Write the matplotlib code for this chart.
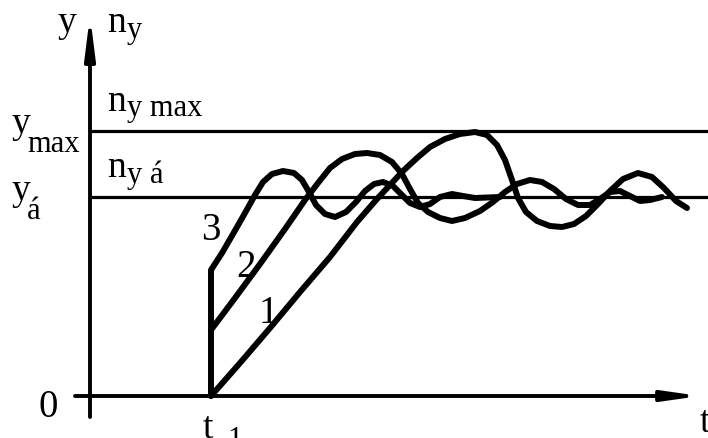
import matplotlib
matplotlib.use("Agg")
import matplotlib.pyplot as plt

# Levels (y-up units, origin at axis crossing)
t1 = 121
y_a = 199
y_max = 265

# Response curves
c1_x = [121, 150, 180, 210, 240, 267, 287, 300, 313, 327, 340, 355, 370, 385, 397, 407, 415, 422,
        428, 436, 447, 460, 472, 484, 496, 508, 520, 533, 548, 562, 574, 586, 597]
c1_y = [0, 33, 68, 104, 139, 174, 197, 211, 225, 238, 249, 257, 262, 264, 261, 251, 236, 216,
        198, 184, 175, 170, 169, 172, 180, 192, 205, 217, 223, 219, 208, 195, 188]

c2_x = [121, 145, 170, 195, 215, 228, 240, 252, 265, 277, 290, 302, 312, 320, 328, 338, 350, 362,
        375, 390, 403, 415, 427, 440, 452, 464, 476, 488, 500, 510, 520, 530, 540, 550, 560, 572]
c2_y = [66, 98, 132, 167, 196, 213, 228, 237, 242, 243, 241, 234, 222, 207, 193, 184, 178, 175,
        178, 185, 194, 204, 212, 216, 214, 207, 197, 191, 191, 197, 204, 205, 200, 195, 196, 199]

c3_x = [121, 121, 132, 143, 155, 165, 173, 182, 193, 204, 212, 219, 226, 235, 245, 256, 266, 275,
        284, 293, 303, 312, 320, 330, 340, 350, 362, 373, 385, 410]
c3_y = [0, 126, 143, 162, 183, 201, 214, 222, 225, 223, 216, 204, 191, 182, 179, 184, 194, 205,
        212, 214, 210, 201, 193, 189, 192, 199, 202, 200, 198, 199]

curve_labels = ["1", "2", "3"]

fig = plt.figure(figsize=(7.08, 4.38), dpi=100)
ax = fig.add_axes([0, 0, 1, 1])
ax.set_xlim(-90, 618)
ax.set_ylim(-42, 396)
ax.axis("off")

ink = "black"
serif = "Liberation Serif"

# axes with arrows
ax.annotate("", xy=(0, 381), xytext=(0, -21),
            arrowprops=dict(arrowstyle="-|>,head_length=1.6,head_width=0.2", lw=2.8,
                            color=ink, shrinkA=0, shrinkB=0, mutation_scale=15))
ax.annotate("", xy=(610, 0), xytext=(-15, 0),
            arrowprops=dict(arrowstyle="-|>,head_length=1.4,head_width=0.2", lw=2.8,
                            color=ink, shrinkA=0, shrinkB=0, mutation_scale=15))

# level lines
ax.plot([0, 618], [y_max, y_max], color=ink, lw=2.3, solid_capstyle="butt")
ax.plot([0, 618], [y_a, y_a], color=ink, lw=2.3, solid_capstyle="butt")

# curves
for xs, ys in [(c1_x, c1_y), (c2_x, c2_y), (c3_x, c3_y)]:
    ax.plot(xs, ys, color=ink, lw=4.3, solid_capstyle="round", solid_joinstyle="round")

big = 27
sub = 22
def T(x, y, s, size):
    ax.text(x, y, s, fontsize=size, family=serif, color=ink, ha="left", va="baseline",
            clip_on=False)

T(-33, 364, "y", big)
T(17, 364, "n", big)
T(37, 358, "y", sub)
T(17, 285, "n", big)
T(37, 280, "y max", sub)
T(-78, 263, "y", big)
T(-63, 244, "max", sub)
T(17, 219, "n", big)
T(37, 213, "y á", sub)
T(-78, 196, "y", big)
T(-63, 177, "á", sub)
T(-51, -21, "0", 28)
T(113, -42, "t", big)
T(137, -52, "1", sub)
T(610, -36, "t", big)

T(111, 156, curve_labels[2], 28)
T(146, 119, curve_labels[1], 28)
T(169, 73, curve_labels[0], 28)

fig.savefig("out.png", dpi=100)
